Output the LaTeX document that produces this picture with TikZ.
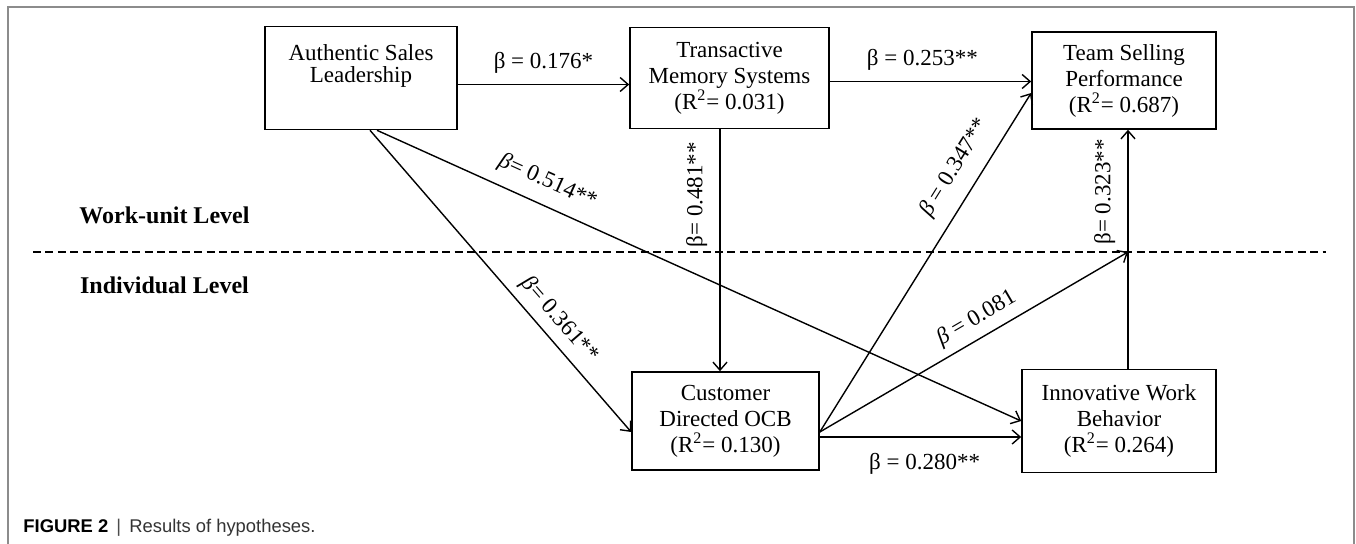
\documentclass[tikz,border=0pt]{standalone}
\usepackage{fontspec}
\setmainfont{Liberation Serif}
\newfontfamily\capfont{Liberation Sans}
\usetikzlibrary{arrows.meta}

\begin{document}
\begin{tikzpicture}[x=0.5pt, y=-0.5pt,
  box/.style={draw=black, line width=0.8pt, align=center, inner sep=0pt,
    font=\fontsize{11.5}{13}\selectfont},
  lvl/.style={font=\fontsize{12}{14}\selectfont\bfseries},
  lab/.style={font=\fontsize{11.5}{13}\selectfont, inner sep=2pt},
  arr/.style={line width=0.7pt, -{Straight Barb[length=4pt, width=7pt]}}]
  \def\ytop{78}
  \def\ybot{421}

  \useasboundingbox (0,0) rectangle (1356,544);
  \draw[black!45, line width=0.6pt] (8,560) -- (8,7) -- (1354,7) -- (1354,560);

  \node[box, minimum width=96pt, minimum height=51.5pt] (ASL) at (361, \ytop)
    {Authentic Sales\\[-2.3pt]Leadership\\[1.5pt]\mbox{}};
  \node[box, minimum width=99.5pt, minimum height=50.5pt] (TMS) at (729.5, \ytop)
    {Transactive\\Memory Systems\\(R\textsuperscript{2}= 0.031)};
  \node[box, minimum width=92pt, minimum height=48.5pt] (TSP) at (1124, 80.5)
    {Team Selling\\Performance\\(R\textsuperscript{2}= 0.687)};
  \node[box, minimum width=93.5pt, minimum height=49pt] (CDO) at (725.5, \ybot)
    {Customer\\Directed OCB\\(R\textsuperscript{2}= 0.130)};
  \node[box, minimum width=97pt, minimum height=51.5pt] (IWB) at (1119, \ybot)
    {Innovative Work\\Behavior\\(R\textsuperscript{2}= 0.264)};

  \node[lvl] (work) at (164.5, 215) {Work-unit Level};
  \node[lvl] (indiv) at (164.5, 285) {Individual Level};

  % level divider
  \coordinate (dashL) at (33, 252);
  \coordinate (dashR) at (1326, 252);
  \coordinate (meet) at (1128, 252);
  \draw[line width=0.8pt, dash pattern=on 4pt off 2.2pt] (dashL) -- (dashR);

  \draw[arr] ([yshift=-3.25pt]ASL.east) -- ([yshift=-3.25pt]ASL.east -| TMS.west)
    node[lab, pos=0.5, above=3pt] {β = 0.176*};
  \draw[arr] ([yshift=-1.75pt]TMS.east) -- ([yshift=-1.75pt]TMS.east -| TSP.west)
    node[lab, pos=0.46, above=3pt] {β = 0.253**};
  \draw[arr] ([xshift=-2.75pt]CDO.north |- TMS.south) -- ([xshift=-2.75pt]CDO.north)
    node[lab, pos=0.27, rotate=90, above=4pt] {β= 0.481**};
  \draw[arr] ([xshift=4.5pt]ASL.south) -- ([yshift=-5.5pt]CDO.west)
    node[lab, pos=0.67, sloped, above=2pt] {\textit{β}= 0.361**};
  \draw[arr] ([xshift=8pt]ASL.south) -- (IWB.west)
    node[lab, pos=0.25, sloped, above=4pt] {\textit{β}= 0.514**};
  \draw[arr] ([yshift=-5.5pt]CDO.east) -- ([yshift=-6.25pt]TSP.west)
    node[lab, pos=0.74, sloped, above=5pt] {\textit{β} = 0.347**};
  \draw[arr] ([yshift=-5.5pt]CDO.east) -- (meet)
    node[lab, pos=0.54, sloped, above=2pt] {\textit{β} = 0.081};
  \draw[arr] ([yshift=-8pt]CDO.east) -- ([yshift=-8pt]CDO.east -| IWB.west)
    node[lab, pos=0.52, below=6pt] {β = 0.280**};
  \draw[arr] (IWB.north -| meet) -- (TSP.south -| meet)
    node[lab, pos=0.74, sloped, above=4pt] {β= 0.323**};

  \node[anchor=base west, inner sep=0pt, font=\capfont\fontsize{9.2}{11}\selectfont]
    (cap) at (23, 533) {\textbf{FIGURE 2}\, {\color{black!70}|}\, {\color{black!80}Results of hypotheses.}};
\end{tikzpicture}
\end{document}
